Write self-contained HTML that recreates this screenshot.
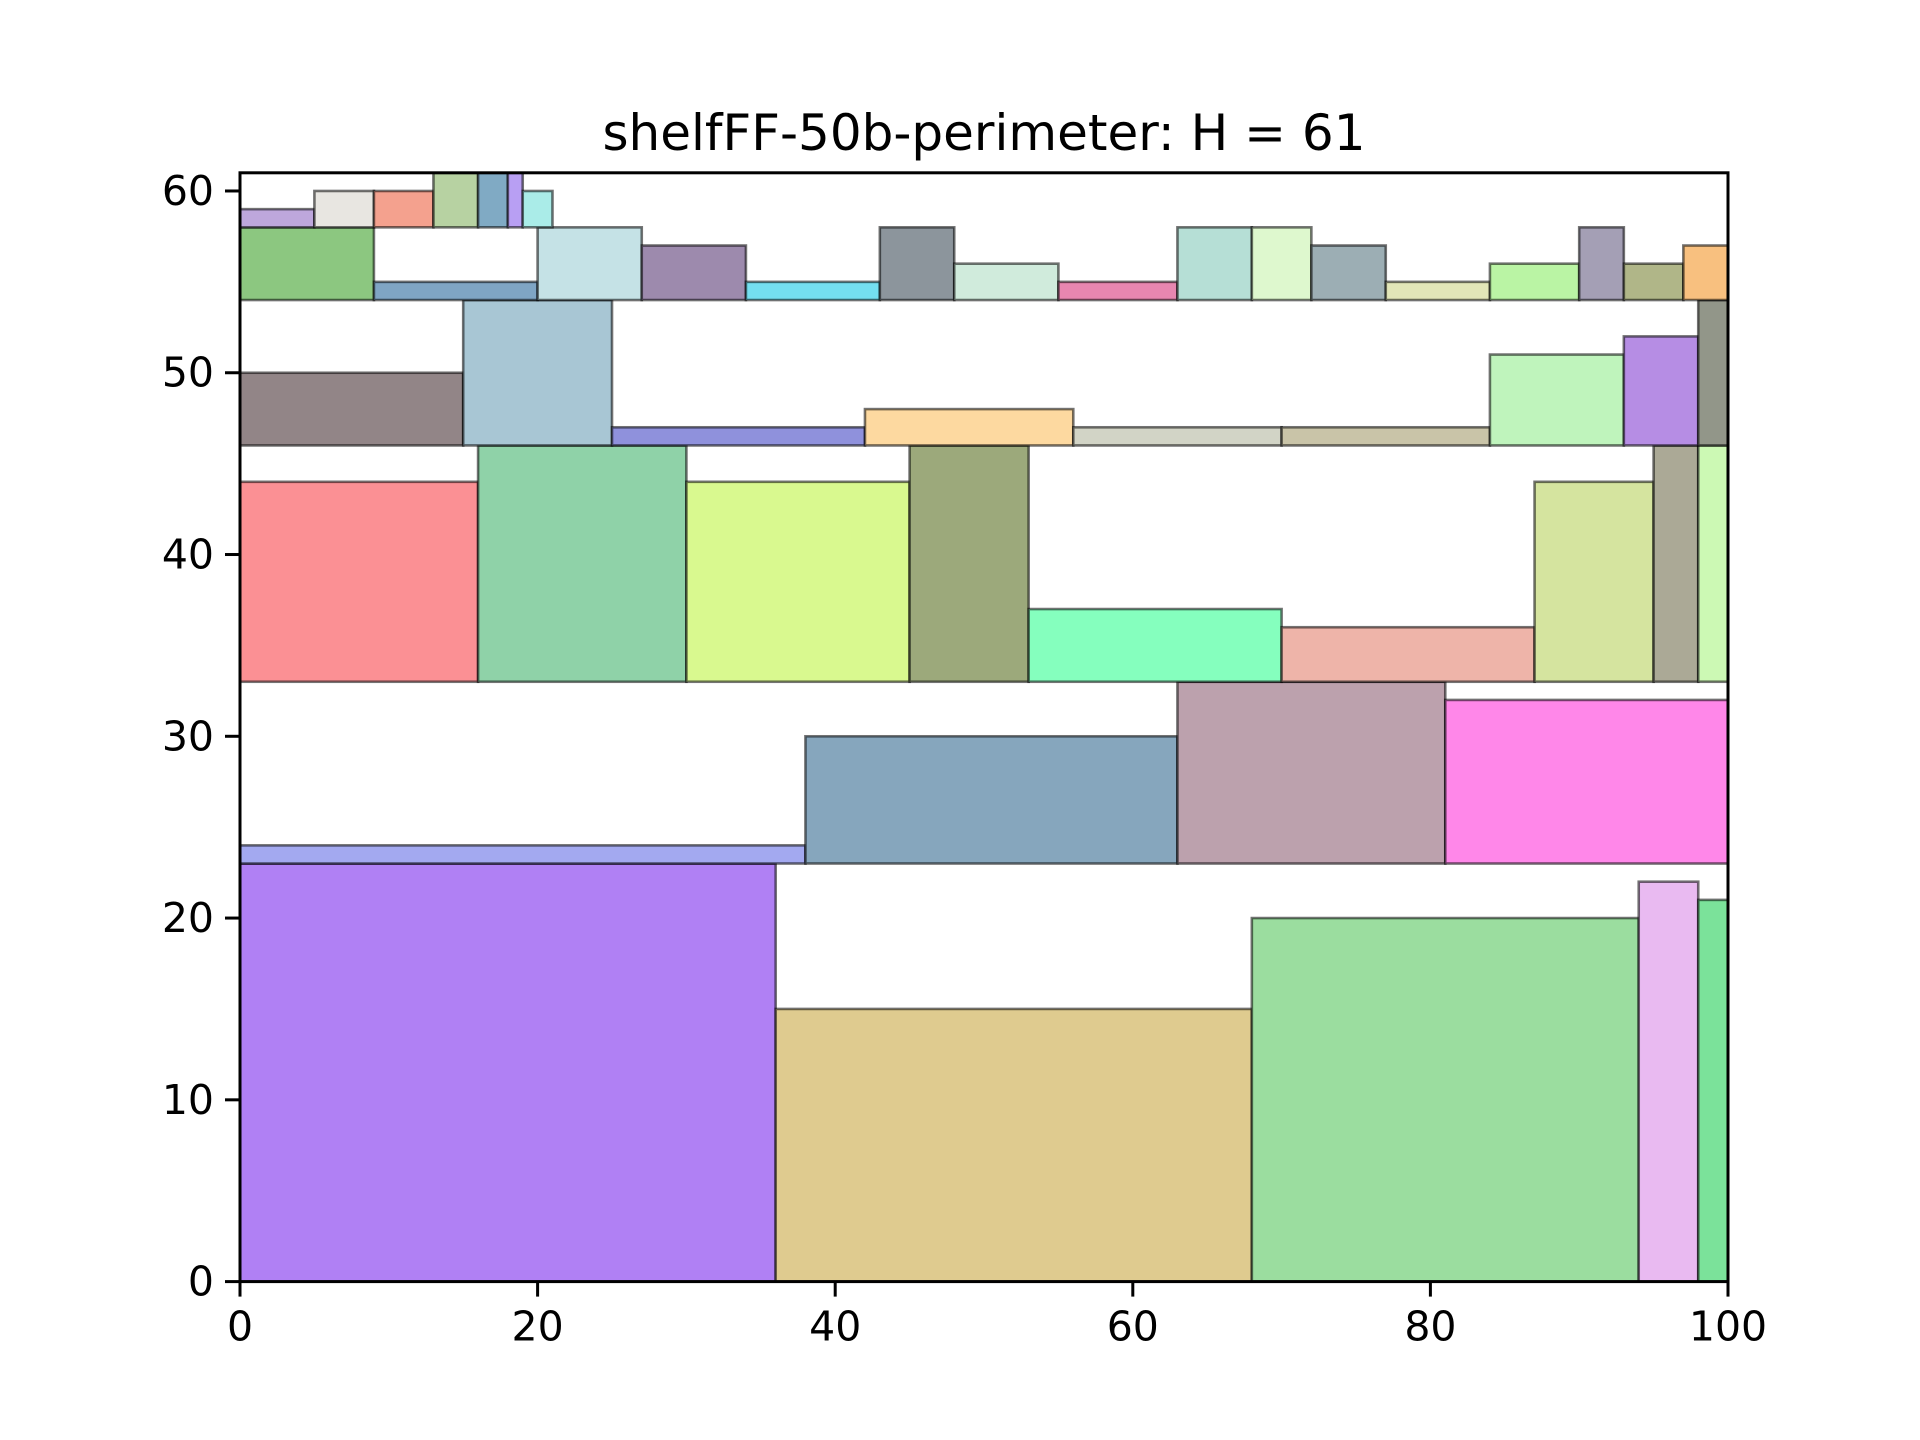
<!DOCTYPE html>
<html><head><meta charset="utf-8"><style>
html,body{margin:0;padding:0;background:#fff;}
svg{display:block;font-family:"DejaVu Sans","Liberation Sans",sans-serif;}
</style></head><body>
<svg id="chart" width="1920" height="1440" viewBox="0 0 1920 1440" xmlns="http://www.w3.org/2000/svg">
<rect width="1920" height="1440" fill="#fff"/>
<text x="984" y="150" font-size="50" text-anchor="middle">shelfFF-50b-perimeter: H = 61</text>
<g id="rects"></g>
<g id="axes"></g>
</svg>
<script>
const rectX = [0,36,68,94,98, 0,38,63,81, 0,16,30,45,53,70,87,95,98, 0,15,25,42,56,70,84,93,98, 0,9,20,27,34,43,48,55,63,68,72,77,84,90,93,97, 0,5,9,13,16,18,19];
const rectY = [0,0,0,0,0, 23,23,23,23, 33,33,33,33,33,33,33,33,33, 46,46,46,46,46,46,46,46,46, 54,54,54,54,54,54,54,54,54,54,54,54,54,54,54,54, 58,58,58,58,58,58,58];
const rectW = [36,32,26,4,2, 38,25,18,19, 16,14,15,8,17,17,8,3,2, 15,10,17,14,14,14,9,5,2, 9,11,7,7,9,5,7,8,5,4,5,7,6,3,4,3, 5,4,4,3,2,1,2];
const rectH = [23,15,20,22,21, 1,7,10,9, 11,13,11,13,4,3,11,13,13, 4,8,1,2,1,1,5,6,8, 4,1,4,3,1,4,2,1,4,4,3,1,2,4,2,3, 1,2,2,3,3,3,2];
const rectColors = ["#b080f4","#dfcb8f","#9bdd9f","#e9baf1","#7be29a",
"#a3a9f0","#86a6bd","#bca1ad","#ff87e9",
"#fb9094","#8fd2a8","#d9f98f","#9ca97b","#85ffbe","#eeb4a9","#d5e49f","#aba996","#ccf9b4",
"#928587","#a8c6d4","#8f91dc","#fdd9a0","#d2d4c6","#c9c4a8","#bff4bc","#b68de4","#929689",
"#8cc780","#7fa5c4","#c5e2e6","#9d8aad","#74dff0","#8c959c","#d0ebdc","#e886b0","#b6dfd6","#def8ce","#9caeb4","#e2e6b8","#baf4a4","#a49fb5","#b0b688","#f8c07f",
"#bea7dc","#e8e6e1","#f4a18e","#b7d2a2","#80aac4","#b89ff3","#aaece8"];
const xTicks = [0,20,40,60,80,100];
const yTicks = [0,10,20,30,40,50,60];
const X0=240,X1=1728,Y0=1281.6,Y1=172.8,XMAX=100,YMAX=61;
const NS="http://www.w3.org/2000/svg";
function sx(v){return X0+(X1-X0)*v/XMAX;}
function sy(v){return Y0-(Y0-Y1)*v/YMAX;}
const rg=document.getElementById('rects');
for(let i=0;i<rectX.length;i++){
  const r=document.createElementNS(NS,'rect');
  
  
  r.setAttribute('x',sx(rectX[i]));
  r.setAttribute('y',sy(rectY[i]+rectH[i]));
  r.setAttribute('width',sx(rectX[i]+rectW[i])-sx(rectX[i]));
  r.setAttribute('height',sy(rectY[i])-sy(rectY[i]+rectH[i]));
  r.setAttribute('fill',rectColors[i%rectColors.length]);
  r.setAttribute('stroke','rgba(0,0,0,0.55)');
  r.setAttribute('stroke-width','2.6');
  rg.appendChild(r);
}
const ag=document.getElementById('axes');
const frame=document.createElementNS(NS,'rect');


frame.setAttribute('x',X0);frame.setAttribute('y',Y1);
frame.setAttribute('width',X1-X0);frame.setAttribute('height',Y0-Y1);
frame.setAttribute('fill','none');frame.setAttribute('stroke','#000');frame.setAttribute('stroke-width','3');
ag.appendChild(frame);
xTicks.forEach(t=>{
  const l=document.createElementNS(NS,'line');
  
  
  l.setAttribute('x1',sx(t));l.setAttribute('x2',sx(t));l.setAttribute('y1',Y0);l.setAttribute('y2',Y0+15);
  l.setAttribute('stroke','#000');l.setAttribute('stroke-width','3');ag.appendChild(l);
  const tx=document.createElementNS(NS,'text');
  
  
  tx.setAttribute('x',sx(t));tx.setAttribute('y',Y0+59);tx.setAttribute('font-size','41');tx.setAttribute('text-anchor','middle');
  tx.textContent=t;ag.appendChild(tx);
});
yTicks.forEach(t=>{
  const l=document.createElementNS(NS,'line');
  
  
  l.setAttribute('x1',X0-15);l.setAttribute('x2',X0);l.setAttribute('y1',sy(t));l.setAttribute('y2',sy(t));
  l.setAttribute('stroke','#000');l.setAttribute('stroke-width','3');ag.appendChild(l);
  const tx=document.createElementNS(NS,'text');
  
  
  tx.setAttribute('x',X0-26);tx.setAttribute('y',sy(t)+14);tx.setAttribute('font-size','41');tx.setAttribute('text-anchor','end');
  tx.textContent=t;ag.appendChild(tx);
});
</script>
</body></html>
